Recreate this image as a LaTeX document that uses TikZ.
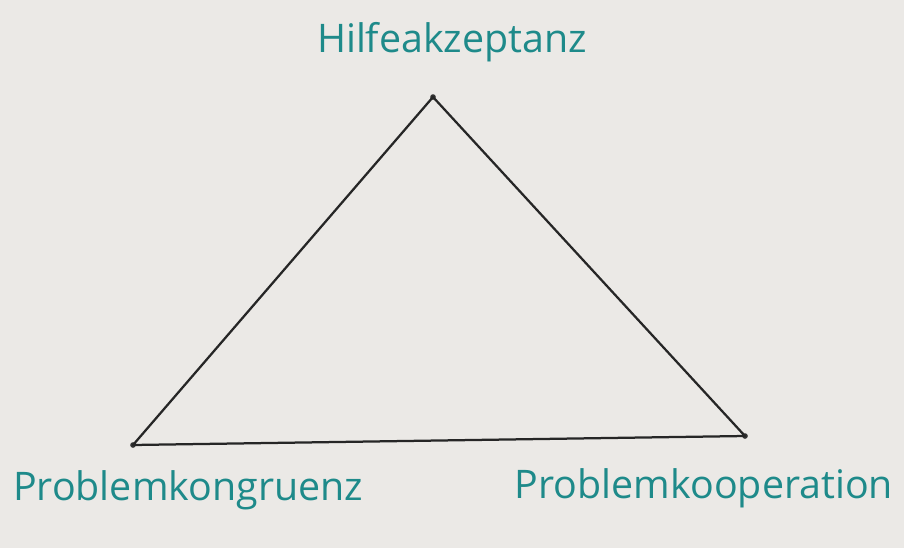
\documentclass[tikz,border=0pt]{standalone}
\usepackage{fontspec}
\setmainfont{Open Sans}
\usepackage{xcolor}
\definecolor{paper}{HTML}{EBE9E6}
\definecolor{ink}{HTML}{1E8A8A}
\usetikzlibrary{positioning}

\begin{document}
\begin{tikzpicture}[
    x=0.025cm, y=-0.025cm,
    label/.style={text=ink, font=\fontsize{28}{32}\selectfont, inner sep=0pt},
    edge/.style={draw=black!85, line width=1.6pt, line join=round},
    corner/.style={circle, fill=black!80, inner sep=0pt, minimum size=4pt}
]

% Paper
\fill[paper] (0,0) rectangle (904,548);
\useasboundingbox (0,0) rectangle (904,548);

% Corners
\node[corner] (top) at (433,97) {};
\node[corner] (left) at (133,445) {};
\node[corner] (right) at (745,436) {};

% Triangle
\draw[edge] (top.center) -- (left.center) -- (right.center) -- cycle;

% Labels
\node[label] (hilfe) at (452,42) {Hilfeakzeptanz};
\node[label] (kongruenz) at (188,490) {Problemkongruenz};
\node[label] (kooperation) at (704,488) {Problemkooperation};

\end{tikzpicture}
\end{document}
